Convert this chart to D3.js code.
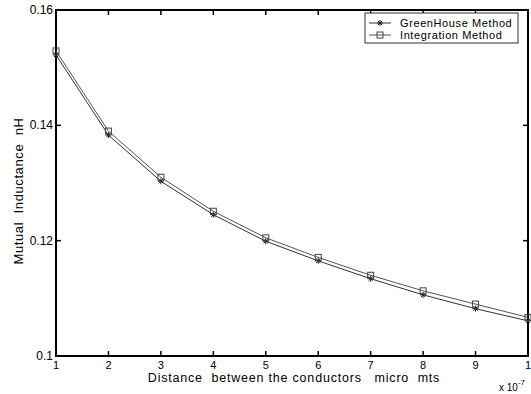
<!DOCTYPE html>
<html><head><meta charset="utf-8">
<script src="https://cdn.jsdelivr.net/npm/d3@7"></script>
<style>body{margin:0;background:#fff}text{font-family:"Liberation Sans",Arial,sans-serif}</style>
</head><body>
<svg id="c" width="531" height="394"></svg>
<script>
const xs = [1,2,3,4,5,6,7,8,9,10];
const greenhouse = [0.1522,0.1383,0.1303,0.1245,0.1199,0.1165,0.1134,0.1106,0.1082,0.1061];
const integration = [0.1529,0.1390,0.1310,0.1251,0.1205,0.1171,0.1140,0.1113,0.1090,0.1067];
const xTicks = [1,2,3,4,5,6,7,8,9,10];
const xTickLabels = ["1","2","3","4","5","6","7","8","9","1"];
const yTicks = [0.1,0.12,0.14,0.16];
const yTickLabels = ["0.1","0.12","0.14","0.16"];
const seriesNames = ["GreenHouse Method","Integration Method"];

const L=56,R=528,T=10,B=356;
const svg=d3.select("#c");
const x=d3.scaleLinear().domain([1,10]).range([L,R]);
const y=d3.scaleLinear().domain([0.1,0.16]).range([B,T]);

svg.append("rect").attr("x",L).attr("y",T).attr("width",R-L).attr("height",B-T)
  .attr("fill","none").attr("stroke","#000").attr("stroke-width",2);

const tl=5;
xTicks.forEach((t,i)=>{
  svg.append("line").attr("x1",x(t)).attr("x2",x(t)).attr("y1",B).attr("y2",B-tl).attr("stroke","#000").attr("stroke-width",1.5);
  svg.append("line").attr("x1",x(t)).attr("x2",x(t)).attr("y1",T).attr("y2",T+tl).attr("stroke","#000").attr("stroke-width",1.5);
  svg.append("text").attr("x",x(t)).attr("y",B+13).attr("text-anchor","middle").attr("font-size",11).text(xTickLabels[i]);
});
yTicks.forEach((t,i)=>{
  svg.append("line").attr("x1",L).attr("x2",L+tl).attr("y1",y(t)).attr("y2",y(t)).attr("stroke","#000").attr("stroke-width",1.5);
  svg.append("line").attr("x1",R).attr("x2",R-tl).attr("y1",y(t)).attr("y2",y(t)).attr("stroke","#000").attr("stroke-width",1.5);
  svg.append("text").attr("x",L-3).attr("y",y(t)+4).attr("text-anchor","end").attr("font-size",12).text(yTickLabels[i]);
});

svg.append("text").attr("x",294).attr("y",382).attr("text-anchor","middle").attr("font-size",12.5)
  .attr("letter-spacing","0.8").attr("xml:space","preserve").text("Distance  between the conductors   micro  mts");
svg.append("text").attr("transform","translate(23,191) rotate(-90)").attr("text-anchor","middle").attr("font-size",13)
  .attr("letter-spacing","0.6").attr("xml:space","preserve").text("Mutual  Inductance  nH");
const ex=svg.append("text").attr("x",499).attr("y",391).attr("font-size",10);
ex.append("tspan").text("x 10");
ex.append("tspan").attr("dy",-6).attr("font-size",8).text("-7");

const line=d3.line().x(d=>x(d[0])).y(d=>y(d[1]));
const gh=xs.map((v,i)=>[v,greenhouse[i]]);
const ig=xs.map((v,i)=>[v,integration[i]]);
svg.append("path").datum(gh).attr("d",line).attr("fill","none").attr("stroke","#333").attr("stroke-width",1);
svg.append("path").datum(ig).attr("d",line).attr("fill","none").attr("stroke","#555").attr("stroke-width",1);

function star(g,cx,cy){
  const s=3;
  g.append("path").attr("d",`M${cx-s},${cy}L${cx+s},${cy}M${cx},${cy-s}L${cx},${cy+s}M${cx-s*0.7},${cy-s*0.7}L${cx+s*0.7},${cy+s*0.7}M${cx-s*0.7},${cy+s*0.7}L${cx+s*0.7},${cy-s*0.7}`)
    .attr("stroke","#222").attr("stroke-width",1).attr("fill","none");
}
function sq(g,cx,cy){
  g.append("rect").attr("x",cx-3).attr("y",cy-3).attr("width",6).attr("height",6).attr("fill","none").attr("stroke","#444").attr("stroke-width",1);
}
const mg=svg.append("g");
gh.forEach(d=>star(mg,x(d[0]),y(d[1])));
ig.forEach(d=>sq(mg,x(d[0]),y(d[1])));

const lg=svg.append("g");
lg.append("rect").attr("x",365).attr("y",13).attr("width",153).attr("height",30).attr("fill","#fff").attr("stroke","#333").attr("stroke-width",1);
[[star,"#333",23],[sq,"#555",35]].forEach((c,i)=>{
  lg.append("line").attr("x1",369).attr("x2",391).attr("y1",c[2]).attr("y2",c[2]).attr("stroke",c[1]).attr("stroke-width",1);
  c[0](lg,380,c[2]);
  lg.append("text").attr("x",400).attr("y",c[2]+4).attr("font-size",11).attr("letter-spacing","0.6").text(seriesNames[i]);
});
</script>
</body></html>
